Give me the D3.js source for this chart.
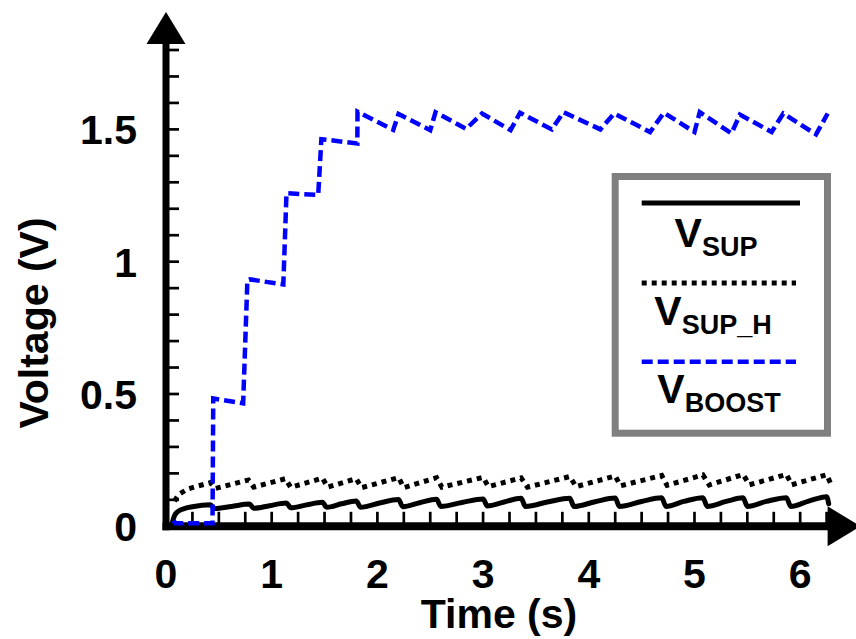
<!DOCTYPE html>
<html>
<head>
<meta charset="utf-8">
<script src="https://cdn.jsdelivr.net/npm/d3@7/dist/d3.min.js"></script>
<style>
  html, body { margin: 0; padding: 0; background: #fff; }
  svg { display: block; }
  text { font-family: "Liberation Sans", Arial, Helvetica, sans-serif; font-weight: bold; fill: #000; }
</style>
</head>
<body>
<svg id="chart" width="856" height="639"></svg>
<script>
// Axis ticks
const xTickLabels = [0, 1, 2, 3, 4, 5, 6];
const yTickLabels = [0, 0.5, 1, 1.5];

// V_BOOST (blue dashed): charge pump steps, then regulation ripple
const tBoost = [0.07, 0.09, 0.44, 0.447, 0.73, 0.77, 0.795, 1.11, 1.14, 1.44, 1.47, 1.81, 1.812,
  2.15, 2.20, 2.50, 2.55, 2.84, 2.99, 3.26, 3.35, 3.65, 3.76, 4.11, 4.24, 4.58, 4.71,
  5.00, 5.05, 5.35, 5.43, 5.73, 5.84, 6.15, 6.26];
const vBoost = [0.022, 0.012, 0.012, 0.483, 0.465, 0.93, 0.933, 0.914, 1.259, 1.252, 1.463, 1.447, 1.567,
  1.498, 1.558, 1.497, 1.565, 1.502, 1.560, 1.497, 1.563, 1.500, 1.565, 1.500, 1.560, 1.490, 1.563,
  1.490, 1.565, 1.485, 1.556, 1.490, 1.560, 1.481, 1.560];

// V_SUP (black solid)
const tSup = [0.06, 0.08, 0.11, 0.18, 0.25, 0.42, 0.46, 0.62, 0.79, 0.83, 0.98, 1.14, 1.18, 1.33, 1.48,
  1.52, 1.66, 1.80, 1.84, 2.02, 2.20, 2.24, 2.40, 2.56, 2.60, 2.80, 3.00, 3.04, 3.20, 3.36, 3.40,
  3.62, 3.82, 3.86, 4.06, 4.25, 4.29, 4.50, 4.69, 4.73, 4.90, 5.08, 5.12, 5.30, 5.46, 5.50, 5.68,
  5.87, 5.91, 6.08, 6.25, 6.27];
const vSup = [0.015, 0.040, 0.055, 0.068, 0.074, 0.081, 0.067, 0.075, 0.084, 0.068, 0.078, 0.088, 0.070,
  0.081, 0.091, 0.072, 0.085, 0.096, 0.072, 0.088, 0.101, 0.074, 0.089, 0.102, 0.075, 0.090, 0.103,
  0.077, 0.092, 0.106, 0.075, 0.093, 0.106, 0.075, 0.093, 0.107, 0.075, 0.094, 0.108, 0.075, 0.094,
  0.108, 0.075, 0.094, 0.108, 0.075, 0.094, 0.108, 0.075, 0.095, 0.112, 0.085];

// V_SUP_H (black dotted)
const tSupH = [0.08, 0.12, 0.20, 0.30, 0.42, 0.47, 0.78, 0.83, 1.13, 1.18, 1.48, 1.53, 1.80, 1.85,
  2.20, 2.25, 2.56, 2.61, 3.00, 3.05, 3.36, 3.42, 3.82, 3.88, 4.25, 4.30, 4.69, 4.74, 5.08, 5.14,
  5.46, 5.52, 5.87, 5.92, 6.25, 6.30];
const vSupH = [0.095, 0.120, 0.140, 0.152, 0.165, 0.143, 0.175, 0.148, 0.180, 0.147, 0.182, 0.148,
  0.180, 0.146, 0.184, 0.146, 0.184, 0.148, 0.185, 0.150, 0.183, 0.148, 0.188, 0.150, 0.190, 0.153,
  0.192, 0.155, 0.194, 0.156, 0.196, 0.157, 0.196, 0.157, 0.195, 0.152];

const svg = d3.select("#chart");

const x = d3.scaleLinear().domain([0, 6.25]).range([166, 826.6]);
const y = d3.scaleLinear().domain([0, 1.8]).range([526.3, 50]);

const minorX = d3.range(1, 26).map(i => i * 0.25);
const minorY = d3.range(1, 19).map(i => i / 10);

// Tick marks (inside the plot)
svg.append("g").selectAll("line").data(minorY).join("line")
  .attr("x1", x(0)).attr("x2", x(0) + 13)
  .attr("y1", d => y(d)).attr("y2", d => y(d))
  .attr("stroke", "#000").attr("stroke-width", 2.7);

svg.append("g").selectAll("line").data(minorX).join("line")
  .attr("x1", d => x(d)).attr("x2", d => x(d))
  .attr("y1", y(0)).attr("y2", y(0) - 14.5)
  .attr("stroke", "#000").attr("stroke-width", 2.7);

// Axis lines with arrowheads
svg.append("line")
  .attr("x1", x(0)).attr("x2", x(0))
  .attr("y1", y(0) + 4).attr("y2", 43)
  .attr("stroke", "#000").attr("stroke-width", 7);
svg.append("path")
  .attr("d", `M${x(0) - 19.5},44 L${x(0)},12 L${x(0) + 19.5},44 Z`)
  .attr("fill", "#000");

svg.append("line")
  .attr("x1", x(0) - 3.5).attr("x2", x(6.25) + 2)
  .attr("y1", y(0)).attr("y2", y(0))
  .attr("stroke", "#000").attr("stroke-width", 8);
svg.append("path")
  .attr("d", `M${x(6.25) + 1},${y(0) - 20} L${x(6.25) + 34},${y(0)} L${x(6.25) + 1},${y(0) + 20} Z`)
  .attr("fill", "#000");

// Tick labels
svg.append("g").selectAll("text").data(yTickLabels).join("text")
  .attr("x", 137).attr("y", d => y(d) + 15)
  .attr("text-anchor", "end").attr("font-size", 41)
  .text(d => d);

svg.append("g").selectAll("text").data(xTickLabels).join("text")
  .attr("x", d => x(d)).attr("y", 588)
  .attr("text-anchor", "middle").attr("font-size", 41)
  .text(d => d);

// Axis titles
svg.append("text")
  .attr("x", 499).attr("y", 628)
  .attr("text-anchor", "middle").attr("font-size", 41)
  .text("Time (s)");
svg.append("text")
  .attr("transform", "translate(48,323) rotate(-90)")
  .attr("text-anchor", "middle").attr("font-size", 41)
  .text("Voltage (V)");

// Series
const line = d3.line().x(d => x(d[0])).y(d => y(d[1]));
const smooth = d3.line().x(d => x(d[0])).y(d => y(d[1])).curve(d3.curveMonotoneX);

svg.append("path")
  .datum(d3.zip(tSup, vSup))
  .attr("d", smooth)
  .attr("fill", "none").attr("stroke", "#000").attr("stroke-width", 5)
  .attr("stroke-linejoin", "round").attr("stroke-linecap", "round");

svg.append("path")
  .datum(d3.zip(tSupH, vSupH))
  .attr("d", line)
  .attr("fill", "none").attr("stroke", "#000").attr("stroke-width", 5)
  .attr("stroke-dasharray", "5,5");

svg.append("path")
  .datum(d3.zip(tBoost, vBoost))
  .attr("d", line)
  .attr("fill", "none").attr("stroke", "#0000ff").attr("stroke-width", 4.5)
  .attr("stroke-dasharray", "11,5");

// Legend
const legend = svg.append("g");
legend.append("rect")
  .attr("x", 615.2).attr("y", 176.5).attr("width", 212.3).attr("height", 256.7)
  .attr("fill", "#fff").attr("stroke", "#808080").attr("stroke-width", 7);

const legendItems = [
  { sub: "SUP", lineY: 203, textY: 247, cx: 716, stroke: "#000", dash: null, w: 5 },
  { sub: "SUP_H", lineY: 283, textY: 325, cx: 713, stroke: "#000", dash: "5,5", w: 5 },
  { sub: "BOOST", lineY: 361.7, textY: 403, cx: 719, stroke: "#0000ff", dash: "11,5", w: 4.5 }
];

legendItems.forEach(it => {
  legend.append("line")
    .attr("x1", 641.7).attr("x2", it.dash ? 796 : 800)
    .attr("y1", it.lineY).attr("y2", it.lineY)
    .attr("stroke", it.stroke).attr("stroke-width", it.w)
    .attr("stroke-dasharray", it.dash);
  const t = legend.append("text")
    .attr("x", it.cx).attr("y", it.textY)
    .attr("text-anchor", "middle");
  t.append("tspan").attr("font-size", 41).text("V");
  t.append("tspan").attr("font-size", 27).attr("dy", 9).text(it.sub);
});
</script>
</body>
</html>
